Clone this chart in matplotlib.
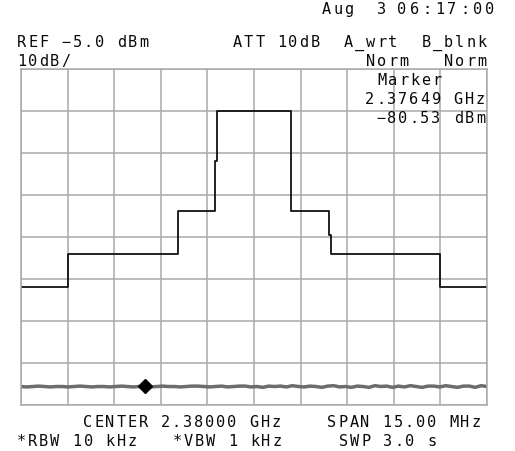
import numpy as np
import matplotlib
matplotlib.use("Agg")
import matplotlib.pyplot as plt

W, H = 515, 451
DPI = 100

# Sweep settings
center_ghz = 2.380
span_ghz = 0.015
ref_dbm = -5.0
db_per_div = 10.0
n_vdiv = 8
n_hdiv = 10

# Stepped mask trace: breakpoint frequencies (GHz) and levels (dBm)
trace_freq = [2.3725, 2.3740, 2.3740, 2.37756, 2.37756, 2.37874, 2.37874,
              2.37880, 2.37880, 2.38119, 2.38119, 2.38241, 2.38241, 2.38248,
              2.38248, 2.3860, 2.3860, 2.3875]
trace_dbm = [-57.0, -57.0, -49.0, -49.0, -38.9, -38.9, -26.9,
             -26.9, -15.0, -15.0, -38.9, -38.9, -44.5, -44.5,
             -49.0, -49.0, -57.0, -57.0]

# Measured noise floor (dBm), evenly spaced across the span
noise_dbm = [-80.6, -80.7, -80.6, -80.5, -80.6, -80.7, -80.6, -80.6, -80.7, -80.6,
             -80.5, -80.6, -80.7, -80.6, -80.6, -80.7, -80.6, -80.5, -80.6, -80.7,
             -80.6, -80.6, -80.7, -80.6, -80.5, -80.6, -80.6, -80.7, -80.6, -80.5,
             -80.5, -80.6, -80.7, -80.6, -80.5, -80.7, -80.6, -80.5, -80.5, -80.7,
             -80.6, -80.8, -80.5, -80.6, -80.5, -80.7, -80.4, -80.6, -80.7, -80.5,
             -80.6, -80.8, -80.5, -80.4, -80.7, -80.6, -80.8, -80.5, -80.6, -80.8,
             -80.4, -80.6, -80.5, -80.8, -80.5, -80.7, -80.4, -80.6, -80.8, -80.5,
             -80.5, -80.7, -80.4, -80.6, -80.8, -80.5, -80.5, -80.8, -80.4, -80.6]

marker_ghz = 2.37649
marker_dbm = -80.53

f_start = center_ghz - span_ghz / 2
f_stop = center_ghz + span_ghz / 2
y_top = ref_dbm
y_bot = ref_dbm - db_per_div * n_vdiv

fig = plt.figure(figsize=(W / DPI, H / DPI), dpi=DPI)
fig.patch.set_facecolor("white")

# Graticule area in pixels
gx0, gx1, gy0, gy1 = 21, 487, 69, 405
ax = fig.add_axes([gx0 / W, 1 - gy1 / H, (gx1 - gx0) / W, (gy1 - gy0) / H])
ax.set_xlim(f_start, f_stop)
ax.set_ylim(y_bot, y_top)
ax.set_xticks(np.linspace(f_start, f_stop, n_hdiv + 1))
ax.set_yticks(np.linspace(y_bot, y_top, n_vdiv + 1))
ax.tick_params(length=0, labelbottom=False, labelleft=False)
grid_col = "#aaaaaa"
ax.grid(True, color=grid_col, linewidth=1.1)
for s in ax.spines.values():
    s.set_color(grid_col)
    s.set_linewidth(1.1)
ax.set_axisbelow(True)

# Noise floor
nf = np.linspace(f_start, f_stop, len(noise_dbm))
ax.plot(nf, noise_dbm, color="#6c6c6c", linewidth=2.5, solid_capstyle="butt")

# Stepped trace
ax.plot(trace_freq, trace_dbm, color="#111111", linewidth=1.3)

# Marker
ax.plot([marker_ghz], [marker_dbm], marker="D", color="black", markersize=7.5,
        linestyle="none")

# Character-cell text, like the analyzer's display
PITCH = 11.1
FS = 11


def cells(x, y, s, pitch=PITCH):
    for i, ch in enumerate(s):
        if ch == " ":
            continue
        fig.text((x + i * pitch + 4.5) / W, 1 - y / H, ch, ha="center",
                 va="baseline", fontsize=FS, family="DejaVu Sans Mono",
                 color="#0a0a0a")


cells(322, 14, "Aug  3")
cells(397, 14, "06:17:00", pitch=12.6)
cells(17, 47, "REF \u22125.0 dBm")
cells(233, 47, "ATT 10dB  A_wrt  B_blnk")
cells(17, 66, "10dB/")
cells(366, 66, "Norm   Norm")
cells(377, 85, "Marker")
cells(365, 104, "2.37649 GHz")
cells(376, 123, "\u221280.53 dBm")
cells(83, 427, "CENTER 2.38000 GHz    SPAN 15.00 MHz")
cells(17, 446, "*RBW 10 kHz   *VBW 1 kHz     SWP 3.0 s")

fig.savefig("out.png", dpi=DPI, facecolor="white")
